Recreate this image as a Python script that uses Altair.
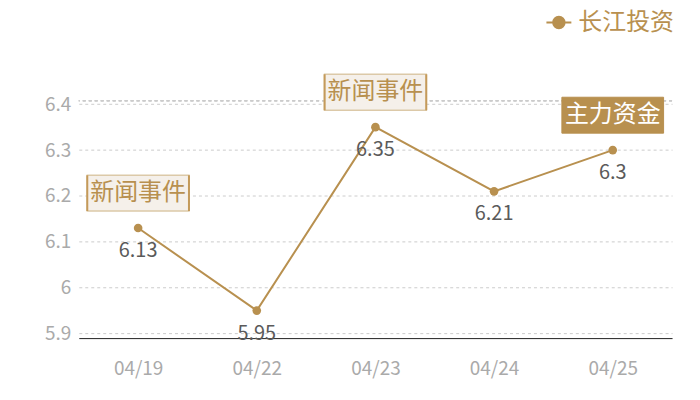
import altair as alt
import pandas as pd

dates = ["04/19", "04/22", "04/23", "04/24", "04/25"]
values = [6.13, 5.95, 6.35, 6.21, 6.30]
events = ["新闻事件", "", "新闻事件", "", "主力资金"]
series_name = "长江投资"
y_ticks = [5.9, 6.0, 6.1, 6.2, 6.3, 6.4]

GOLD = "#b8904f"
FONT = "Noto Sans CJK SC"

df = pd.DataFrame({"date": dates, "value": values, "event": events, "series": series_name})

x_enc = alt.X("date:N", sort=dates, scale=alt.Scale(type="point", padding=0.5),
              axis=alt.Axis(title=None, labelAngle=0, ticks=False, domain=True,
                            domainColor="#222222", domainWidth=1, labelColor="#aaaaaa",
                            labelFontSize=19, labelFont=FONT, labelPadding=22, grid=False))
y_enc = alt.Y("value:Q", scale=alt.Scale(domain=[5.89, 6.4075], nice=False, zero=False),
              axis=alt.Axis(title=None, values=y_ticks, format="~g", ticks=False, domain=False,
                            labelColor="#aaaaaa", labelFontSize=19, labelFont=FONT,
                            labelPadding=8, grid=True, gridColor="#cccccc", gridDash=[3, 3]))

color_scale = alt.Scale(domain=[series_name], range=[GOLD])

base = alt.Chart(df)

top_rule = base.mark_rule(color="#cccccc", strokeDash=[3, 3]).encode(y=alt.value(0))

line = base.mark_line(strokeWidth=2, color=GOLD).encode(x=x_enc, y=y_enc)

legend_path = "M-1,0H1M0.46,0A0.46,0.46,0,1,1,-0.46,0A0.46,0.46,0,1,1,0.46,0Z"
points = base.mark_circle(size=75, opacity=1).encode(
    x=x_enc, y=y_enc,
    color=alt.Color("series:N", scale=color_scale, legend=alt.Legend(
        title=None, orient="none", legendX=468, legendY=-92,
        symbolType=legend_path, symbolSize=625, labelFontSize=24, labelFont=FONT,
        labelColor=GOLD, labelOffset=6, labelLimit=300, symbolStrokeColor=GOLD,
        symbolFillColor=GOLD, symbolStrokeWidth=2, symbolOpacity=1)))

labels = base.mark_text(dy=23, fontSize=20, font=FONT, color="#5a5a5a").encode(
    x=x_enc, y=y_enc, text=alt.Text("value:Q", format="~g"))

box_path = "M-1,-0.353H1V0.353H-1Z"
side_path = "M-1,-0.353V0.353M1,-0.353V0.353"

news = base.transform_filter(alt.datum.event == "新闻事件")
news_box = news.mark_point(shape=box_path, size=102 * 102, filled=True, fill="#f5f0ea",
                           stroke="#dcc9a8", strokeWidth=1.5, opacity=1, yOffset=-35).encode(x=x_enc, y=y_enc)
news_side = news.mark_point(shape=side_path, size=102 * 102, filled=False, stroke="#c49a5a",
                            strokeWidth=2, opacity=1, yOffset=-35).encode(x=x_enc, y=y_enc)
news_text = news.mark_text(yOffset=-35, fontSize=24, font=FONT, color=GOLD, baseline="middle").encode(
    x=x_enc, y=y_enc, text="event:N")

fund = base.transform_filter(alt.datum.event == "主力资金")
fund_box = fund.mark_point(shape=box_path, size=102 * 102, filled=True, fill=GOLD,
                           stroke=GOLD, strokeWidth=1, opacity=1, yOffset=-35).encode(x=x_enc, y=y_enc)
fund_text = fund.mark_text(yOffset=-35, fontSize=24, font=FONT, color="#ffffff", baseline="middle").encode(
    x=x_enc, y=y_enc, text="event:N")

chart = alt.layer(top_rule, line, points, labels, news_box, news_side, news_text, fund_box, fund_text).properties(
    width=595, height=238,
    padding={"left": 71, "top": 92.5, "right": 20, "bottom": 58},
    autosize="none",
).configure(font=FONT).configure_view(stroke=None)

chart.save("out.html", embed_options={"renderer": "svg", "actions": False})
